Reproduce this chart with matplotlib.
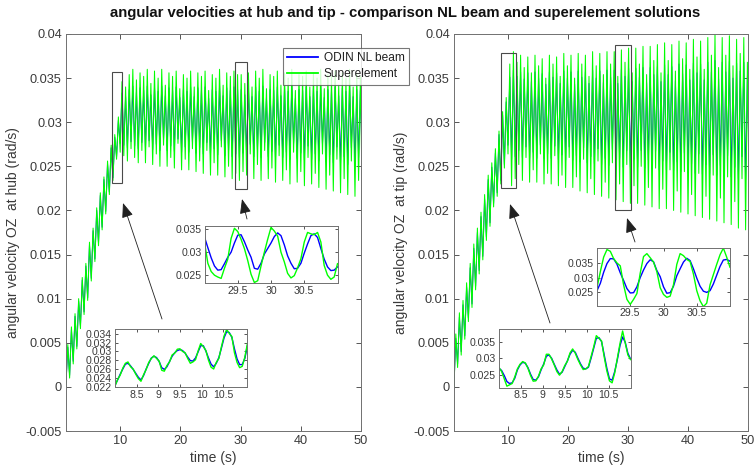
import numpy as np
import matplotlib

matplotlib.use("Agg")
import matplotlib.pyplot as plt
from matplotlib.patches import Rectangle, FancyArrowPatch
from matplotlib.ticker import FuncFormatter, MultipleLocator

plt.rcParams["font.family"] = ["Liberation Sans", "DejaVu Sans"]

BLUE = "#0000ff"
GREEN = "#00ff00"
TXT = "#3a3a3a"
EDGE = "#707070"
W, H = 754, 475

TITLE = "angular velocities at hub and tip - comparison NL beam and superelement solutions"
SERIES = ["ODIN NL beam", "Superelement"]
YLABELS = ["angular velocity OZ  at hub (rad/s)", "angular velocity OZ  at tip (rad/s)"]
XLABEL = "time (s)"

# ---- full runs: successive peaks / troughs, values in 1e-3 rad/s ----
t_full = np.linspace(1.0, 50.2, 165)

hub_nl = [0.5, 4.5, 1.3, 6.5, 2.9, 8.0, 4.6, 9.7, 6.9, 12.1,
          8.5, 13.7, 10.1, 16.1, 12.3, 17.7, 14.5, 20.0, 16.3, 21.7,
          18.1, 23.5, 19.9, 25.3, 22.1, 27.1, 23.7, 28.3, 26.1, 30.2,
          27.6, 33.3, 27.4, 32.9, 27.1, 33.7, 27.8, 34.1, 27.3, 33.4,
          27.0, 33.9, 27.7, 33.6, 27.0, 34.1, 27.9, 33.1, 26.9, 34.0,
          27.5, 33.5, 26.8, 34.1, 28.0, 33.0, 26.8, 33.9, 27.3, 33.6,
          26.7, 34.0, 28.1, 32.8, 26.6, 33.7, 27.2, 33.5, 26.6, 34.0,
          27.8, 32.9, 26.5, 33.9, 27.1, 33.6, 26.4, 34.0, 27.7, 32.7,
          26.3, 33.7, 27.0, 33.5, 26.3, 34.1, 27.9, 33.0, 26.2, 33.9,
          26.8, 33.6, 26.1, 34.0, 26.4, 33.7, 26.0, 33.7, 26.5, 33.1,
          26.3, 33.9, 27.5, 32.9, 26.1, 34.0, 26.9, 33.5, 26.0, 34.1,
          27.7, 32.8, 26.1, 33.7, 26.7, 33.6, 25.9, 34.0, 27.4, 33.0,
          26.0, 33.9, 26.6, 33.5, 25.8, 34.1, 27.6, 32.7, 25.9, 33.7,
          26.5, 33.6, 25.7, 34.0, 27.3, 32.9, 25.8, 33.9, 26.4, 33.5,
          25.6, 34.1, 27.5, 32.8, 25.5, 33.7, 26.3, 33.6, 25.4, 34.0,
          27.2, 33.0, 25.3, 33.9, 26.1, 33.5, 25.2, 34.1, 27.1, 32.9,
          25.1, 33.7, 26.0, 33.6, 25.0]

hub_se = [0.3, 4.8, 1.0, 6.8, 2.6, 8.3, 4.3, 10.0, 6.6, 12.4,
          8.2, 14.0, 9.8, 16.4, 12.0, 18.0, 14.2, 20.3, 16.0, 22.0,
          17.8, 23.8, 19.6, 25.6, 21.8, 27.4, 23.4, 28.6, 25.8, 30.6,
          26.6, 34.6, 26.2, 34.0, 25.6, 35.4, 27.0, 36.0, 26.0, 34.8,
          25.4, 35.6, 26.8, 35.2, 25.4, 36.0, 27.2, 34.4, 25.2, 35.8,
          26.4, 35.0, 25.0, 36.0, 27.4, 34.2, 25.0, 35.6, 26.0, 35.2,
          24.8, 35.8, 27.6, 33.8, 24.6, 35.4, 25.8, 35.0, 24.6, 35.8,
          27.0, 34.0, 24.4, 35.6, 25.6, 35.2, 24.2, 35.8, 26.8, 33.6,
          24.0, 35.4, 25.4, 35.0, 24.0, 36.0, 27.2, 34.2, 23.8, 35.6,
          25.0, 35.2, 23.6, 35.8, 24.2, 35.4, 23.4, 35.4, 24.4, 34.4,
          24.0, 35.6, 26.4, 34.0, 23.6, 35.8, 25.2, 35.0, 23.4, 36.0,
          26.8, 33.8, 23.6, 35.4, 24.8, 35.2, 23.2, 35.8, 26.2, 34.2,
          23.4, 35.6, 24.6, 35.0, 23.0, 36.0, 26.6, 33.6, 23.2, 35.4,
          24.4, 35.2, 22.8, 35.8, 26.0, 34.0, 23.0, 35.6, 24.2, 35.0,
          22.6, 36.0, 26.4, 33.8, 22.4, 35.4, 24.0, 35.2, 22.2, 35.8,
          25.8, 34.2, 22.0, 35.6, 23.6, 35.0, 21.8, 36.0, 25.6, 34.0,
          21.6, 35.4, 23.4, 35.2, 21.4]

tip_nl = [0.3, 5.5, 2.6, 7.9, 4.0, 9.3, 5.8, 11.3, 7.8, 13.5,
          9.4, 15.7, 11.4, 17.5, 13.2, 19.3, 14.8, 21.3, 17.0, 23.5,
          18.6, 24.9, 20.8, 26.5, 22.0, 28.6, 23.4, 30.8, 25.2, 32.3,
          27.4, 35.1, 25.8, 35.9, 26.1, 35.2, 26.8, 35.7, 26.0, 34.9,
          27.2, 35.6, 25.9, 34.6, 26.6, 35.7, 25.9, 35.0, 27.4, 35.5,
          25.9, 34.3, 26.4, 35.7, 25.9, 35.1, 27.3, 35.6, 25.8, 34.4,
          26.3, 35.8, 25.7, 35.0, 27.2, 35.7, 25.7, 34.3, 26.2, 35.8,
          25.5, 35.1, 27.1, 35.7, 25.4, 34.4, 26.1, 35.9, 25.3, 35.0,
          27.0, 35.8, 25.2, 34.5, 25.9, 35.9, 25.1, 35.1, 26.9, 35.9,
          25.0, 34.4, 25.9, 36.0, 24.9, 35.2, 26.8, 36.1, 24.9, 34.6,
          25.8, 36.1, 24.9, 35.1, 26.8, 36.2, 24.8, 34.5, 25.7, 36.2,
          24.7, 35.4, 26.7, 36.3, 24.6, 34.6, 25.6, 36.5, 24.6, 35.4,
          26.6, 36.3, 24.5, 34.7, 25.5, 36.6, 24.4, 35.5, 26.5, 36.5,
          24.3, 34.8, 25.3, 36.7, 24.2, 35.6, 26.4, 36.6, 24.1, 34.8,
          25.2, 36.8, 24.1, 35.7, 26.3, 37.0, 24.0, 34.9, 25.1, 36.8,
          23.9, 35.7, 26.2, 36.9, 23.8, 35.0, 24.9, 36.7, 23.6, 35.8,
          26.1, 36.8, 23.5, 35.2, 24.9]

tip_se = [0.0, 6.0, 2.2, 8.4, 3.6, 9.8, 5.4, 11.8, 7.4, 14.0,
          9.0, 16.2, 11.0, 18.0, 12.8, 19.8, 14.4, 21.8, 16.6, 24.0,
          18.2, 25.4, 20.4, 27.0, 21.6, 29.0, 23.0, 31.2, 24.8, 32.8,
          26.4, 36.6, 22.8, 38.0, 23.6, 36.8, 25.2, 37.6, 23.4, 36.2,
          26.0, 37.4, 23.2, 35.6, 24.6, 37.6, 23.2, 36.4, 26.4, 37.2,
          23.0, 35.0, 24.2, 37.6, 23.0, 36.6, 26.2, 37.4, 22.8, 35.2,
          24.0, 37.8, 22.6, 36.4, 26.0, 37.6, 22.6, 35.0, 23.8, 37.8,
          22.2, 36.6, 25.8, 37.6, 22.0, 35.2, 23.6, 38.0, 21.8, 36.4,
          25.6, 37.8, 21.6, 35.4, 23.2, 38.0, 21.4, 36.6, 25.4, 38.0,
          21.2, 35.2, 23.0, 38.2, 21.0, 36.8, 25.2, 38.4, 20.8, 35.6,
          22.8, 38.4, 20.8, 36.6, 25.0, 38.6, 20.6, 35.4, 22.6, 38.6,
          20.4, 37.0, 24.8, 38.8, 20.2, 35.6, 22.4, 39.0, 20.2, 37.0,
          24.6, 38.8, 20.0, 35.8, 22.2, 39.2, 19.8, 37.2, 24.4, 39.0,
          19.6, 36.0, 21.8, 39.4, 19.4, 37.4, 24.2, 39.2, 19.2, 36.0,
          21.6, 39.6, 19.0, 37.6, 24.0, 40.0, 18.8, 36.2, 21.4, 39.6,
          18.6, 37.6, 23.8, 39.8, 18.4, 36.4, 21.0, 39.4, 18.0, 37.8,
          23.6, 39.6, 17.8, 36.8, 20.8]

# ---- zoomed windows, values in 1e-3 rad/s ----
t_hub_early = np.linspace(8.0, 11.06, 52)
t_tip_early = np.linspace(8.0, 11.0, 51)
t_late = np.linspace(29.0, 31.0, 41)

hub_early_nl = [22.3, 23.5, 24.8, 26.0, 27.1, 27.3, 26.7, 25.9, 25.0, 24.1,
                23.5, 24.5, 26.0, 27.3, 28.5, 28.9, 28.6, 27.7, 26.3, 25.9,
                26.5, 27.7, 28.9, 29.7, 30.2, 30.4, 30.2, 29.6, 28.7, 27.9,
                27.8, 28.5, 29.9, 31.3, 31.3, 30.1, 28.5, 27.1, 26.5, 27.3,
                28.6, 30.8, 33.1, 34.5, 34.3, 33.2, 30.6, 28.3, 27.0, 27.0,
                28.4, 31.3]
hub_early_se = [22.1, 23.6, 24.6, 26.2, 27.3, 27.6, 26.5, 26.0, 24.8, 23.8,
                23.2, 24.7, 25.9, 27.5, 28.4, 29.0, 28.4, 27.8, 25.7, 25.5,
                26.8, 27.6, 29.2, 29.6, 30.5, 30.6, 30.0, 29.7, 28.4, 27.3,
                27.6, 28.1, 30.1, 31.8, 31.1, 30.2, 28.0, 26.4, 26.0, 27.5,
                28.4, 31.1, 33.5, 35.0, 34.1, 33.4, 29.7, 27.5, 26.3, 26.6,
                28.7, 31.8]
hub_late_nl = [33.3, 31.0, 28.8, 27.0, 26.1, 26.2, 27.5, 28.9, 30.0, 32.0,
               33.7, 33.8, 32.3, 30.5, 28.9, 26.5, 26.3, 27.6, 29.6, 30.8,
               32.0, 33.4, 34.2, 33.6, 31.6, 29.2, 27.6, 26.4, 26.5, 27.6,
               29.8, 31.8, 33.6, 34.0, 33.2, 30.8, 28.5, 26.8, 26.0, 26.1,
               26.8]
hub_late_se = [32.2, 27.6, 25.8, 25.0, 24.6, 24.3, 26.5, 28.5, 33.0, 35.2,
               34.5, 32.8, 30.8, 28.2, 25.2, 23.4, 23.8, 27.0, 30.0, 32.8,
               35.4, 34.6, 33.5, 30.0, 27.9, 25.4, 24.4, 24.9, 26.6, 28.6,
               32.2, 34.3, 34.0, 33.8, 34.3, 32.2, 27.1, 25.0, 24.1, 24.6,
               27.5]
tip_early_nl = [27.0, 26.3, 24.8, 23.0, 22.4, 22.6, 24.0, 26.5, 28.0, 28.8,
                28.5, 27.2, 25.2, 23.6, 23.4, 24.4, 26.5, 28.3, 30.6, 31.0,
                30.0, 28.2, 26.5, 25.2, 25.8, 27.5, 29.2, 31.2, 32.4, 31.8,
                30.0, 28.3, 27.0, 26.8, 27.3, 30.0, 33.0, 36.0, 36.2, 35.0,
                31.0, 27.0, 23.8, 23.4, 26.0, 29.6, 33.8, 36.4, 34.8, 31.5,
                29.8]
tip_early_se = [27.2, 26.0, 23.8, 21.6, 22.0, 22.4, 24.4, 26.8, 28.2, 29.0,
                28.6, 27.0, 24.8, 23.1, 23.2, 24.6, 26.8, 28.0, 31.2, 31.2,
                29.8, 28.0, 26.0, 24.9, 26.0, 27.8, 29.1, 31.6, 32.8, 31.5,
                29.6, 28.0, 26.6, 26.8, 27.5, 30.5, 33.4, 36.8, 36.0, 35.2,
                30.4, 26.2, 23.2, 22.6, 25.6, 30.0, 34.4, 38.2, 34.6, 31.0,
                29.6]
tip_late_nl = [25.5, 28.0, 31.8, 34.8, 36.5, 36.4, 34.6, 31.6, 29.0, 26.2,
               24.7, 24.8, 26.8, 30.0, 32.6, 34.8, 36.1, 35.4, 32.4, 30.3,
               26.8, 24.6, 24.8, 27.0, 30.6, 33.0, 35.3, 36.6, 35.8, 33.0,
               29.8, 27.0, 25.3, 24.9, 25.5, 27.8, 30.8, 33.8, 36.0, 36.2,
               35.6]
tip_late_se = [26.5, 32.0, 37.0, 39.6, 39.0, 36.5, 35.0, 34.0, 27.5, 22.5,
               20.8, 22.5, 24.5, 31.5, 37.2, 38.2, 36.8, 35.3, 32.0, 26.5,
               24.2, 23.2, 23.6, 27.5, 34.5, 38.2, 37.5, 36.2, 35.5, 31.2,
               25.5, 22.0, 20.0, 21.2, 27.5, 31.0, 34.5, 37.8, 40.1, 37.0,
               33.5]

SCALE = 1e-3


def px_rect(x0, y0, x1, y1):
    return [x0 / W, 1 - y1 / H, (x1 - x0) / W, (y1 - y0) / H]


def fig_pt(x, y):
    return (x / W, 1 - y / H)


fmt = FuncFormatter(lambda v, _p: f"{round(v, 6) + 0.0:g}")


def style(ax, size):
    ax.tick_params(direction="in", top=True, right=True, length=3.5,
                   width=0.6, colors=TXT, labelsize=size, pad=3)
    for sp in ax.spines.values():
        sp.set_color(EDGE)
        sp.set_linewidth(0.7)
    ax.xaxis.set_major_formatter(fmt)
    ax.yaxis.set_major_formatter(fmt)


fig = plt.figure(figsize=(W / 100, H / 100), dpi=100)
fig.patch.set_facecolor("white")

panels = [
    dict(rect=(66, 34, 361, 431), nl=hub_nl, se=hub_se, ylabel=YLABELS[0],
         boxes=[(8.62, 10.38, 0.0231, 0.0357), (29.15, 31.05, 0.0224, 0.0368)],
         insets=[
             dict(rect=(204.5, 226, 337.5, 283), t=t_late, nl=hub_late_nl, se=hub_late_se,
                  xlim=(29, 31), ylim=(0.0233, 0.0357), xt=[29.5, 30, 30.5],
                  yt=[0.025, 0.03, 0.035]),
             dict(rect=(115, 329, 247, 387), t=t_hub_early, nl=hub_early_nl, se=hub_early_se,
                  xlim=(8, 11.05), ylim=(0.0219, 0.0351), xt=[8.5, 9, 9.5, 10, 10.5],
                  yt=[0.022, 0.024, 0.026, 0.028, 0.03, 0.032, 0.034]),
         ]),
    dict(rect=(454, 34, 748, 431), nl=tip_nl, se=tip_se, ylabel=YLABELS[1],
         boxes=[(8.83, 11.38, 0.0226, 0.0378), (27.9, 30.55, 0.0200, 0.0388)],
         insets=[
             dict(rect=(597, 247.5, 730, 305.5), t=t_late, nl=tip_late_nl, se=tip_late_se,
                  xlim=(29, 31), ylim=(0.0204, 0.0403), xt=[29.5, 30, 30.5],
                  yt=[0.025, 0.03, 0.035]),
             dict(rect=(499, 329, 630.5, 387.5), t=t_tip_early, nl=tip_early_nl, se=tip_early_se,
                  xlim=(8, 11), ylim=(0.0212, 0.0388), xt=[8.5, 9, 9.5, 10, 10.5],
                  yt=[0.025, 0.03, 0.035]),
         ]),
]

handles = None
for p in panels:
    ax = fig.add_axes(px_rect(*p["rect"]))
    l1, = ax.plot(t_full, np.array(p["nl"]) * SCALE, color=BLUE, lw=0.7)
    l2, = ax.plot(t_full, np.array(p["se"]) * SCALE, color=GREEN, lw=0.75)
    handles = handles or [l1, l2]
    ax.set_xlim(1, 50)
    ax.set_ylim(-0.005, 0.04)
    ax.xaxis.set_major_locator(MultipleLocator(10))
    ax.yaxis.set_major_locator(MultipleLocator(0.005))
    style(ax, 9.2)
    ax.set_xlabel(XLABEL, fontsize=10, color=TXT, labelpad=3)
    ax.set_ylabel(p["ylabel"], fontsize=10, color=TXT, labelpad=4)
    for t0, t1, v0, v1 in p["boxes"]:
        ax.add_patch(Rectangle((t0, v0), t1 - t0, v1 - v0, fill=False,
                               edgecolor="#4a4a4a", lw=0.8, zorder=5))

    for ins in p["insets"]:
        axi = fig.add_axes(px_rect(*ins["rect"]))
        axi.set_facecolor("white")
        axi.plot(ins["t"], np.array(ins["nl"]) * SCALE, color=BLUE, lw=1.0)
        axi.plot(ins["t"], np.array(ins["se"]) * SCALE, color=GREEN, lw=1.0)
        axi.set_xlim(*ins["xlim"])
        axi.set_ylim(*ins["ylim"])
        axi.set_xticks(ins["xt"])
        axi.set_yticks(ins["yt"])
        style(axi, 7.6)
        axi.tick_params(length=2.5, pad=2)

# zoom arrows (figure pixels: tail -> head)
arrows = [((162, 319), (123, 203)), ((247, 219), (242, 199)),
          ((550, 323), (510, 204)), ((635, 242), (627, 218))]
for tail, head in arrows:
    fig.add_artist(FancyArrowPatch(fig_pt(*tail), fig_pt(*head),
                                   transform=fig.transFigure,
                                   arrowstyle="-|>,head_length=0.9,head_width=0.35",
                                   mutation_scale=10, color="#202020", lw=0.6,
                                   shrinkA=0, shrinkB=0))

leg = fig.legend(handles, SERIES, loc="upper left",
                 bbox_to_anchor=fig_pt(283, 48), bbox_transform=fig.transFigure,
                 borderaxespad=0, fontsize=8.6, frameon=True, fancybox=False,
                 handlelength=2.6, handletextpad=0.45, borderpad=0.35,
                 labelspacing=0.35)
leg.get_frame().set_edgecolor("#555555")
leg.get_frame().set_linewidth(0.8)
for txt in leg.get_texts():
    txt.set_color("#202020")
for ln in leg.get_lines():
    ln.set_linewidth(1.3)

fig.text(405 / W, 1 - 13 / H, TITLE, ha="center", va="center",
         fontsize=10.7, fontweight="bold", color="#111111")

fig.savefig("out.png", dpi=100, facecolor="white")
